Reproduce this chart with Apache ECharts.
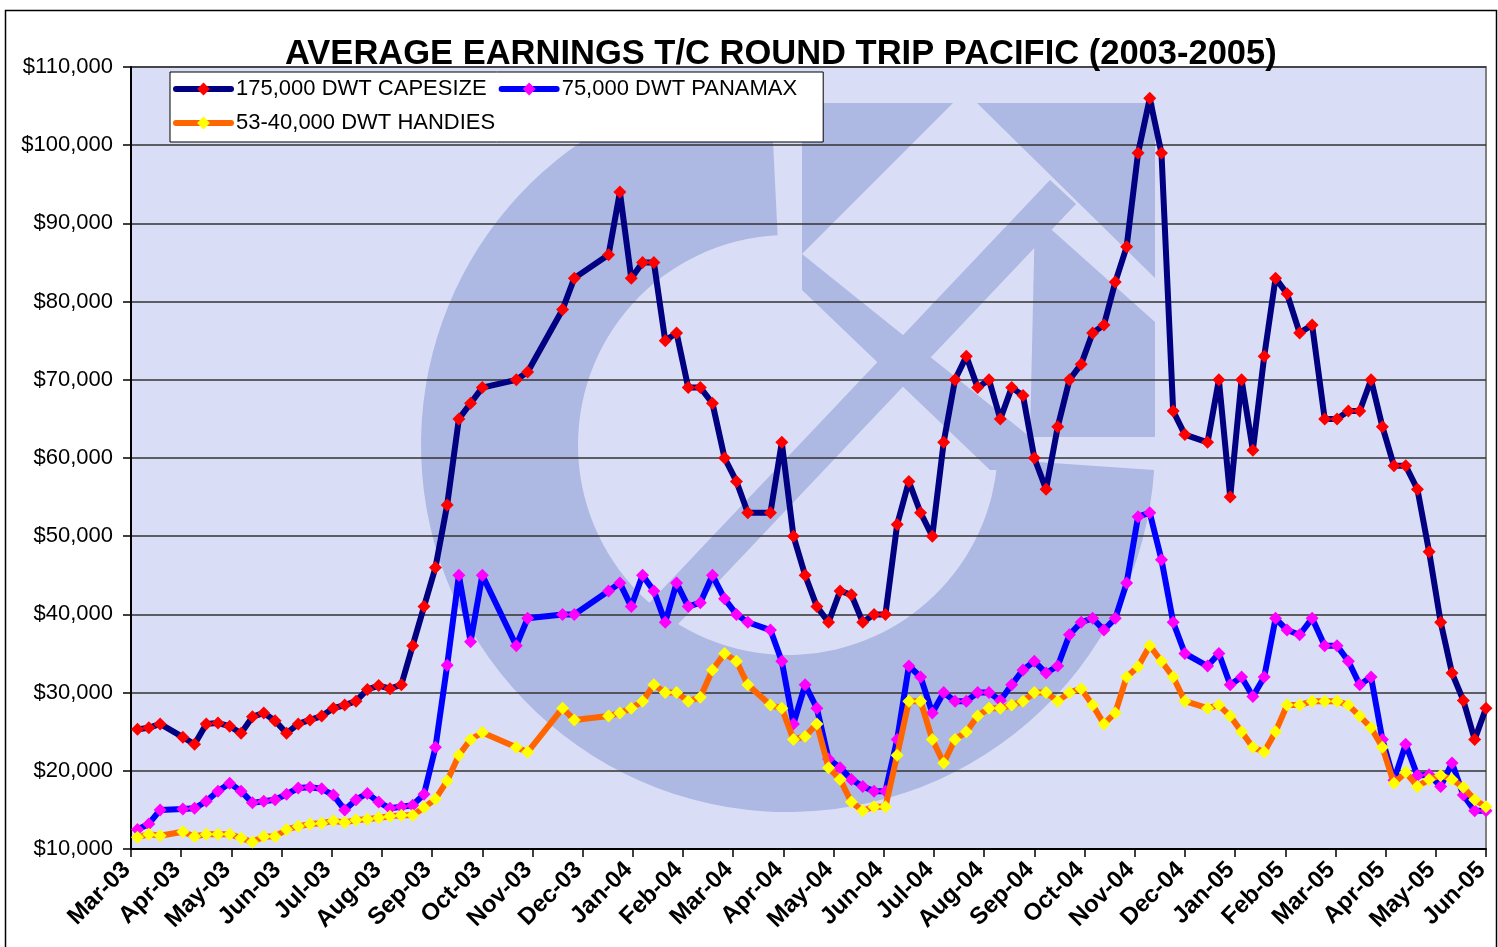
<!DOCTYPE html>
<html><head><meta charset="utf-8">
<script src="https://cdn.jsdelivr.net/npm/echarts@6/dist/echarts.min.js"></script>
<style>html,body{margin:0;padding:0;background:#fff}#c{width:1498px;height:947px}</style>
</head><body><div id="c"></div>
<script>
const tickLabels = ['Mar-03','Apr-03','May-03','Jun-03','Jul-03','Aug-03','Sep-03','Oct-03','Nov-03','Dec-03',
  'Jan-04','Feb-04','Mar-04','Apr-04','May-04','Jun-04','Jul-04','Aug-04','Sep-04','Oct-04','Nov-04','Dec-04',
  'Jan-05','Feb-05','Mar-05','Apr-05','May-05','Jun-05'];

const dates = [
  '2003-03-05','2003-03-12','2003-03-19','2003-04-02','2003-04-09','2003-04-16','2003-04-23','2003-04-30',
  '2003-05-07','2003-05-14','2003-05-21','2003-05-28','2003-06-04','2003-06-11','2003-06-18','2003-06-25',
  '2003-07-02','2003-07-09','2003-07-16','2003-07-23','2003-07-30','2003-08-06','2003-08-13','2003-08-20','2003-08-27',
  '2003-09-03','2003-09-10','2003-09-17','2003-09-24','2003-10-01','2003-10-22','2003-10-29','2003-11-19','2003-11-26',
  '2003-12-17','2003-12-24','2003-12-31',
  '2004-01-07','2004-01-14','2004-01-21','2004-01-28','2004-02-04','2004-02-11','2004-02-18','2004-02-25',
  '2004-03-03','2004-03-10','2004-03-24','2004-03-31','2004-04-07','2004-04-14','2004-04-21','2004-04-28',
  '2004-05-05','2004-05-12','2004-05-19','2004-05-26','2004-06-02','2004-06-09','2004-06-16','2004-06-23','2004-06-30',
  '2004-07-07','2004-07-14','2004-07-21','2004-07-28','2004-08-04','2004-08-11','2004-08-18','2004-08-25',
  '2004-09-01','2004-09-08','2004-09-15','2004-09-22','2004-09-29','2004-10-06','2004-10-13','2004-10-20','2004-10-27',
  '2004-11-03','2004-11-10','2004-11-17','2004-11-24','2004-12-01','2004-12-15','2004-12-22','2004-12-29',
  '2005-01-05','2005-01-12','2005-01-19','2005-01-26','2005-02-02','2005-02-09','2005-02-16','2005-02-23',
  '2005-03-02','2005-03-09','2005-03-16','2005-03-23','2005-03-30','2005-04-06','2005-04-13','2005-04-20','2005-04-27',
  '2005-05-04','2005-05-11','2005-05-18','2005-05-25','2005-06-01'
];

const capesize = [
  25300,25500,26000, 24300,23400,26000,26100,25700, 24800,26900,27400,26400, 24800,26000,26500,27000,
  28000,28400,28900,30400,30900, 30500,31000,36000,41000, 46000,54000,65000,67000, 69000,70000,71000, 79000,83000,
  86000,94000,83000,
  85000,85000,75000,76000, 69000,69000,67000,60000, 57000,53000,53000,62000, 50000,45000,41000,39000,
  43000,42500,39000,40000, 40000,51500,57000,53000,50000, 62000,70000,73000,69000, 70000,65000,69000,68000,
  60000,56000,64000,70000,72000, 76000,77000,82500,87000, 99000,106000,99000,66000, 63000,62000,70000,55000,
  70000,61000,73000,83000, 81000,76000,77000,65000, 65000,66000,66000,70000,64000, 59000,59000,56000,48000,
  39000,32500,29000,24000, 28000
];

const panamax = [
  12500,13200,15000, 15100,15200,16100,17400,18400, 17400,15900,16100,16300, 17000,17800,17900,17700,
  16900,15000,16300,17100,16000, 15200,15400,15600,17000, 23000,33500,45000,36500, 45000,36000,39500, 40000,40000,
  43000,44000,41000,
  45000,43000,39000,44000, 41000,41500,45000,42000, 40000,39000,38000,34000, 26000,31000,28000,21500,
  20400,18900,18000,17400, 17400,24000,33400,32000,27400, 30000,28900,28900,30000, 30000,29000,31000,32900,
  34000,32500,33400,37400,39000, 39500,38000,39500,44000, 52500,53000,47000,39000, 35000,33400,35000,31000,
  32000,29500,32000,39500, 38000,37400,39500,36000, 36000,34000,31000,32000,24000, 18800,23400,19400,19500,
  18000,21000,16900,14900, 14900
];

const handies = [
  11500,11900,11700, 12200,11600,11900,11900,11900, 11400,10900,11600,11600, 12500,12900,13200,13300,
  13600,13400,13700,13800,14000, 14200,14300,14300,15300, 16400,18700,22000,24000, 24900,23000,22400, 28000,26500,
  27000,27400,28000,
  28900,31000,30000,30000, 28900,29400,32900,35000, 34000,31000,28400,28000, 24000,24400,26000,20400,
  18900,16000,14900,15400, 15400,22000,28900,28900,24000, 21000,24000,25000,27000, 28000,28000,28400,28900,
  30000,30000,28900,30000,30500, 28400,26000,27400,32000, 33300,36000,34000,32000, 28900,28000,28400,27000,
  25000,23000,22400,25000, 28400,28400,28900,28900, 28900,28400,27000,25500,23000, 18400,19800,18000,18900,
  19400,18900,17900,16300, 15400
];

const seriesNames = ['175,000 DWT CAPESIZE','75,000 DWT PANAMAX','53-40,000 DWT HANDIES'];
const lineColors = ['#000080','#0000FF','#FF6600'];
const markerColors = ['#FF0000','#FF00FF','#FFFF00'];

// date -> position in months from Mar-03 (month ticks at integers)
function monthPos(s){
  const p = s.split('-').map(Number);
  const idx = (p[0]-2003)*12 + (p[1]-3);
  const dim = new Date(p[0], p[1], 0).getDate();
  return idx + (p[2]-1)/dim;
}
const xs = dates.map(monthPos);
const toPairs = arr => arr.map((v,i)=>[xs[i], v]);
const values = [capesize, panamax, handies];

const FONT = 'Liberation Sans, Arial, sans-serif';
const BG = '#D9DDF6';
const LOGO = '#ADB8E3';

const chart = echarts.init(document.getElementById('c'), null, {renderer:'canvas'});

const logo = [
  {type:'sector', shape:{cx:788, cy:445, r:367, r0:210, startAngle:0.068, endAngle:4.663, clockwise:true}},
  {type:'polygon', shape:{points:[[600,655],[1050,180],[1076,204],[626,679]]}},
  {type:'polygon', shape:{points:[[802,103],[953,103],[802,254]]}},
  {type:'polygon', shape:{points:[[977,103],[1155,103],[1155,278]]}},
  {type:'polygon', shape:{points:[[1035,215],[1155,322],[1155,437],[1030,437]]}},
  {type:'polygon', shape:{points:[[802,254],[802,290],[990,470],[1030,470],[1030,437]]}}
].map(e => Object.assign(e, {z:1, silent:true, style:{fill:LOGO}}));

const option = {
  animation:false,
  backgroundColor:'#fff',
  title:{
    text:'AVERAGE EARNINGS T/C ROUND TRIP PACIFIC (2003-2005)',
    left:280, top:32, z:10,
    textStyle:{fontFamily:FONT, fontSize:34.5, fontWeight:'bold', color:'#000'}
  },
  legend:{
    left:170, top:72, width:700, z:10,
    padding:[6,26,8,3], itemGap:12, itemWidth:55, itemHeight:16,
    backgroundColor:'#fff', borderColor:'#000', borderWidth:1,
    textStyle:{fontFamily:FONT, fontSize:22, color:'#000', lineHeight:20},
    lineStyle:{width:6, cap:'round'},
    data:seriesNames
  },
  grid:{left:131, right:12, top:67, bottom:98, show:true, backgroundColor:BG, borderColor:'#808080', borderWidth:2, z:0},
  graphic:[
    {type:'rect', z:0, silent:true, shape:{x:5.5, y:10.5, width:1491, height:945}, style:{fill:null, stroke:'#000', lineWidth:1.5}}
  ].concat(logo),
  xAxis:{
    type:'value', min:0, max:27, interval:1, z:2,
    axisLine:{show:true, lineStyle:{color:'#000', width:2}},
    axisTick:{show:true, length:8, lineStyle:{color:'#000', width:1.5}},
    splitLine:{show:false},
    axisLabel:{
      rotate:45, margin:13, padding:[0,6,0,0], color:'#000', fontFamily:FONT, fontSize:24, fontWeight:'bold',
      showMinLabel:true, showMaxLabel:true,
      formatter: v => tickLabels[Math.round(v)] || ''
    }
  },
  yAxis:{
    type:'value', min:10000, max:110000, interval:10000, z:2,
    axisLine:{show:true, lineStyle:{color:'#000', width:2}},
    axisTick:{show:true, length:8, lineStyle:{color:'#000', width:1.5}},
    splitLine:{show:true, lineStyle:{color:'#333', width:1.5}},
    axisLabel:{
      margin:18, color:'#000', fontFamily:FONT, fontSize:22,
      formatter: v => '$' + v.toLocaleString('en-US')
    }
  },
  series: values.map((arr, k) => ({
    name: seriesNames[k], type:'line', data: toPairs(arr), z: 3+k, clip:false,
    symbol:'diamond', symbolSize:13, showSymbol:true, showAllSymbol:true,
    lineStyle:{color:lineColors[k], width:6, cap:'round', join:'round'},
    itemStyle:{color:markerColors[k], borderWidth:0},
    emphasis:{disabled:true}
  }))
};
chart.setOption(option);
</script></body></html>
